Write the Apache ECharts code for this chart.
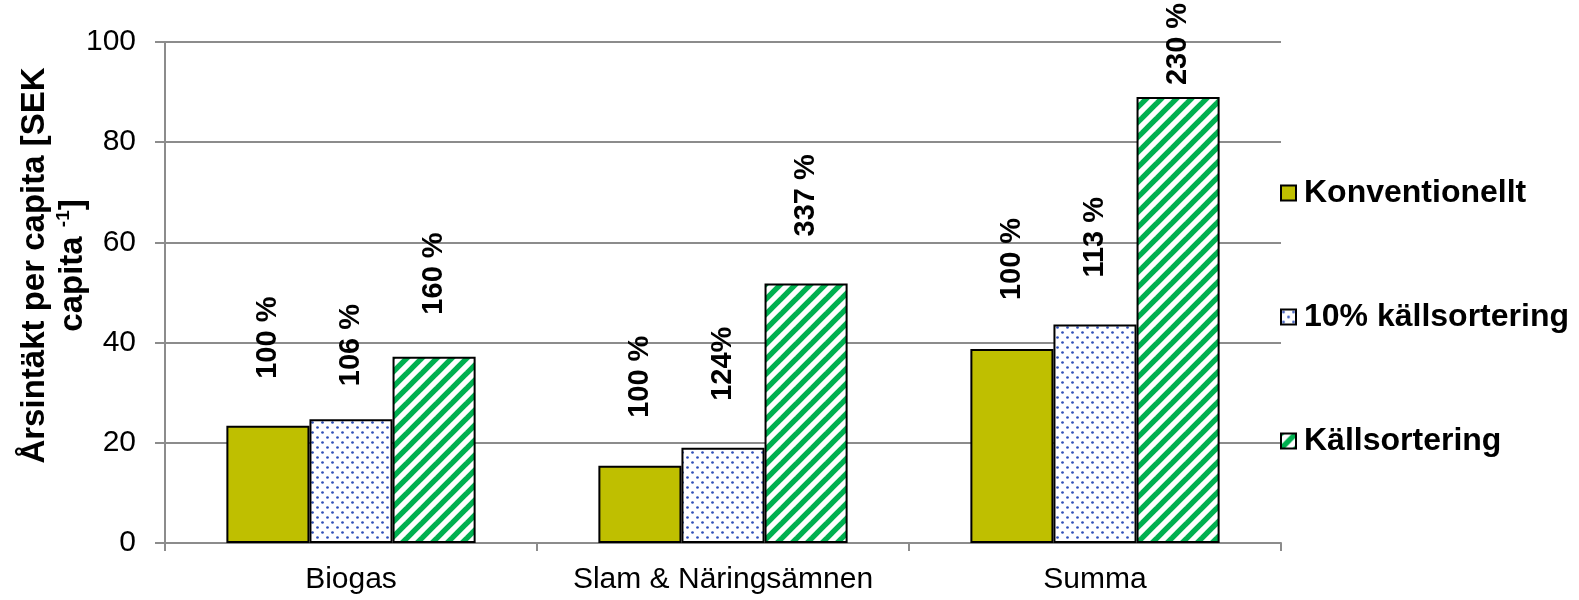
<!DOCTYPE html>
<html>
<head>
<meta charset="utf-8">
<title>Årsintäkt per capita</title>
<script src="https://cdn.jsdelivr.net/npm/echarts@6/dist/echarts.min.js"></script>
<style>
  html, body { margin: 0; padding: 0; background: #ffffff; }
  #chart { width: 1579px; height: 600px; }
</style>
</head>
<body>
<div id="chart"></div>
<script>
// Categories and series
const categories = ['Biogas', 'Slam & Näringsämnen', 'Summa'];
const seriesNames = ['Konventionellt', '10% källsortering', 'Källsortering'];

// Annual revenue per capita [SEK capita^-1]
const konventionellt = [23.4, 15.4, 38.7];
const tioProcentKallsortering = [24.7, 19.0, 43.6];
const kallsortering = [37.2, 51.8, 89.0];

// Relative values printed above the bars
const labelsKonventionellt = ['100 %', '100 %', '100 %'];
const labelsTioProcent = ['106 %', '124%', '113 %'];
const labelsKallsortering = ['160 %', '337 %', '230 %'];

// Value axis ticks
const yMin = 0, yMax = 100, yStep = 20;

// Gap (px) between each bar top and its rotated label
const labelGaps = [[47, 48, 49], [33, 47, 47], [42, 47, 12]];

const FONT = '"Liberation Sans", Arial, sans-serif';

// Fill patterns
function dotPattern() {
  const c = document.createElement('canvas');
  c.width = 10; c.height = 10;
  const g = c.getContext('2d');
  g.fillStyle = '#ffffff';
  g.fillRect(0, 0, 10, 10);
  g.fillStyle = '#2f4fb8';
  [[2.5, 2.5], [7.5, 7.5]].forEach(([x, y]) => {
    g.beginPath(); g.arc(x, y, 1.35, 0, Math.PI * 2); g.fill();
  });
  return c;
}
function stripePattern() {
  const s = 15;
  const c = document.createElement('canvas');
  c.width = s; c.height = s;
  const g = c.getContext('2d');
  g.fillStyle = '#ffffff';
  g.fillRect(0, 0, s, s);
  g.strokeStyle = '#00b050';
  g.lineWidth = 5.4;
  [0, s, 2 * s].forEach(k => {
    g.beginPath();
    g.moveTo(-5, k + 5);
    g.lineTo(k + 5, -5);
    g.stroke();
  });
  return c;
}

const fills = [
  '#bfbf00',
  { image: dotPattern(), repeat: 'repeat' },
  { image: stripePattern(), repeat: 'repeat' }
];
const values = [konventionellt, tioProcentKallsortering, kallsortering];
const labelTexts = [labelsKonventionellt, labelsTioProcent, labelsKallsortering];

const series = seriesNames.map((name, s) => ({
  name: name,
  type: 'bar',
  barGap: '0%',
  barCategoryGap: '33%',
  itemStyle: { color: fills[s], borderColor: '#000000', borderWidth: 2 },
  data: values[s].map((v, i) => ({
    value: v,
    label: {
      show: true,
      position: 'top',
      rotate: 90,
      align: 'left',
      verticalAlign: 'middle',
      distance: labelGaps[s][i],
      formatter: () => labelTexts[s][i],
      fontFamily: FONT,
      fontWeight: 'bold',
      fontSize: 29,
      color: '#000000'
    }
  })),
  emphasis: { disabled: true }
}));

const chart = echarts.init(document.getElementById('chart'));
chart.setOption({
  animation: false,
  backgroundColor: '#ffffff',
  grid: { left: 165, right: 298, top: 42, bottom: 57, containLabel: false, outerBoundsMode: 'none' },
  legend: {
    orient: 'vertical',
    left: 1280,
    top: 177,
    icon: 'rect',
    itemWidth: 15,
    itemHeight: 15,
    itemGap: 92,
    padding: 0,
    textStyle: { fontFamily: FONT, fontWeight: 'bold', fontSize: 32, color: '#000000', padding: [0, 0, 0, 3] },
    data: seriesNames
  },
  xAxis: {
    type: 'category',
    data: categories,
    axisLine: { lineStyle: { color: '#8c8c8c', width: 2 } },
    axisTick: { show: true, alignWithLabel: false, interval: 0, length: 8, lineStyle: { color: '#8c8c8c', width: 2 } },
    axisLabel: { interval: 0, fontFamily: FONT, fontSize: 30, color: '#000000', margin: 22 }
  },
  yAxis: {
    type: 'value',
    min: yMin,
    max: yMax,
    interval: yStep,
    name: '{a|Årsintäkt per capita [SEK}\n{a|capita }{s|-1}{a|]}',
    nameLocation: 'middle',
    nameRotate: 90,
    nameGap: 73,
    nameMoveOverlap: false,
    nameTextStyle: {
      fontFamily: FONT,
      fontWeight: 'bold',
      fontSize: 33,
      color: '#000000',
      lineHeight: 38,
      padding: [0, 0, 0, 54],
      rich: {
        a: { fontFamily: FONT, fontWeight: 'bold', fontSize: 33, color: '#000000', lineHeight: 38 },
        s: { fontFamily: FONT, fontWeight: 'bold', fontSize: 19, color: '#000000', lineHeight: 38, verticalAlign: 'top', padding: [0, 0, 12, 0] }
      }
    },
    axisLine: { show: true, lineStyle: { color: '#8c8c8c', width: 2 } },
    axisTick: { show: true, length: 10, lineStyle: { color: '#8c8c8c', width: 2 } },
    axisLabel: { fontFamily: FONT, fontSize: 30, color: '#000000', margin: 29 },
    splitLine: { show: true, lineStyle: { color: '#8c8c8c', width: 2 } }
  },
  series: series
});
</script>
</body>
</html>
